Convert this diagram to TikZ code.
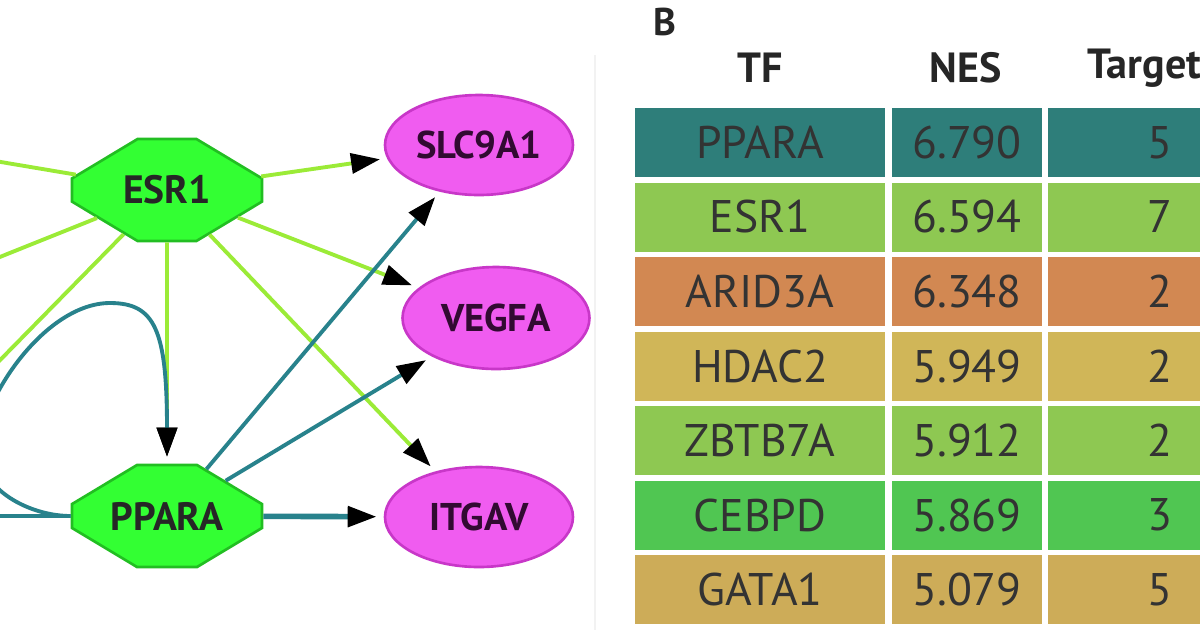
\documentclass[tikz,border=0pt]{standalone}
\usepackage{fontspec}
\setmainfont{PT Sans}
\usetikzlibrary{shapes.misc,shapes.geometric,arrows.meta}

\definecolor{octgreen}{RGB}{51,255,51}
\definecolor{octborder}{RGB}{34,190,34}
\definecolor{genepink}{RGB}{240,92,240}
\definecolor{geneborder}{RGB}{200,55,200}
\definecolor{geneink}{RGB}{50,10,50}
\definecolor{esredge}{RGB}{155,235,55}
\definecolor{pparedge}{RGB}{40,130,140}
\definecolor{rowteal}{RGB}{46,126,122}
\definecolor{rowlime}{RGB}{142,200,82}
\definecolor{roworange}{RGB}{210,136,82}
\definecolor{rowsand}{RGB}{208,182,88}
\definecolor{rowgreen}{RGB}{80,198,82}
\definecolor{rowtan}{RGB}{205,172,88}

\tikzset{
    tfnode/.style={chamfered rectangle, chamfered rectangle xsep=0.83cm,
        chamfered rectangle ysep=0.5cm, chamfered rectangle angle=59,
        minimum width=3.8cm, minimum height=2.04cm, inner sep=0pt,
        fill=octgreen, draw=octborder, line width=1.5pt,
        font=\bfseries\fontsize{22.5}{22.5}\selectfont, text=black!85},
    genenode/.style={ellipse, minimum width=3.76cm, minimum height=2cm, inner sep=0pt,
        fill=genepink, draw=geneborder, line width=1.5pt,
        font=\bfseries\fontsize{22}{22}\selectfont, text=geneink},
    esrline/.style={esredge, line width=2.2pt},
    pparline/.style={pparedge, line width=2.2pt},
    arrowto/.style={-{Triangle[length=0.58cm,width=0.4cm,color=black]}, shorten >=0.14cm},
    cell/.style={inner sep=0pt, minimum height=1.38cm, text=black!80,
        font=\fontsize{26}{26}\selectfont},
    head/.style={inner sep=0pt, text=black!85, font=\bfseries\fontsize{24}{24}\selectfont}
}

\begin{document}
\begin{tikzpicture}[x=0.02cm, y=-0.02cm]
    \clip (0,0) rectangle (1200,630);
    \fill[white] (0,0) rectangle (1200,630);
    \draw[black!5, line width=1pt] (595,55) -- (595,630);

    % network
    \node[tfnode] (esr) at (167,190) {ESR1};
    \node[tfnode] (ppara) at (167,516) {PPARA};
    \node[genenode] (slc) at (479,145) {SLC9A1};
    \node[genenode, minimum width=3.74cm, minimum height=2.04cm] (vegfa) at (496,318) {VEGFA};
    \node[genenode] (itgav) at (479,517) {ITGAV};

    \coordinate (w1) at (-100,145);
    \coordinate (w2) at (-100,297);
    \coordinate (w3) at (-100,462);
    \coordinate (w4) at (-100,516);

    \foreach \w in {w1,w2,w3} {
        \draw[esrline] (esr) -- (\w);
    }
    \draw[esrline, arrowto] (esr) -- (ppara);
    \draw[esrline, arrowto] (esr) -- (slc);
    \draw[esrline, arrowto] (esr) -- (vegfa);
    \draw[esrline, arrowto] (esr) -- (itgav);

    \draw[pparline] (ppara) -- (w4);
    \draw[pparline, arrowto] (ppara.west) .. controls (30,516) and (-20,490) .. (-20,450)
        .. controls (-20,400) and (45,303) .. (110,303)
        .. controls (155,303) and (167,330) .. (ppara.north);
    \draw[pparline, arrowto] (ppara) -- (slc);
    \draw[pparline, arrowto] (ppara) -- (vegfa);
    \draw[pparline, line width=3.2pt, arrowto] (ppara) -- (itgav);

    % table
    \node[font=\bfseries\fontsize{22}{22}\selectfont, text=black!85] (panelb) at (665,22) {B};
    \node[head] (tfhead) at (760,68) {TF};
    \node[head] (neshead) at (966,68) {NES};
    \node[head, anchor=west] (tghead) at (1087,68) {Targets};

    \foreach \tf/\nes/\tg/\col [count=\i from 0] in {PPARA/6.790/5/rowteal,
        ESR1/6.594/7/rowlime, ARID3A/6.348/2/roworange, HDAC2/5.949/2/rowsand,
        ZBTB7A/5.912/2/rowlime, CEBPD/5.869/3/rowgreen, GATA1/5.079/5/rowtan} {
        \node[cell, fill=\col, minimum width=5cm] (tf\i) at (760,{142.5+74.5*\i}) {\tf};
        \node[cell, fill=\col, minimum width=3.02cm] (nes\i) at (967,{142.5+74.5*\i}) {\nes};
        \node[cell, fill=\col, minimum width=4.48cm] (tg\i) at (1160,{142.5+74.5*\i}) {\tg};
    }
\end{tikzpicture}
\end{document}
